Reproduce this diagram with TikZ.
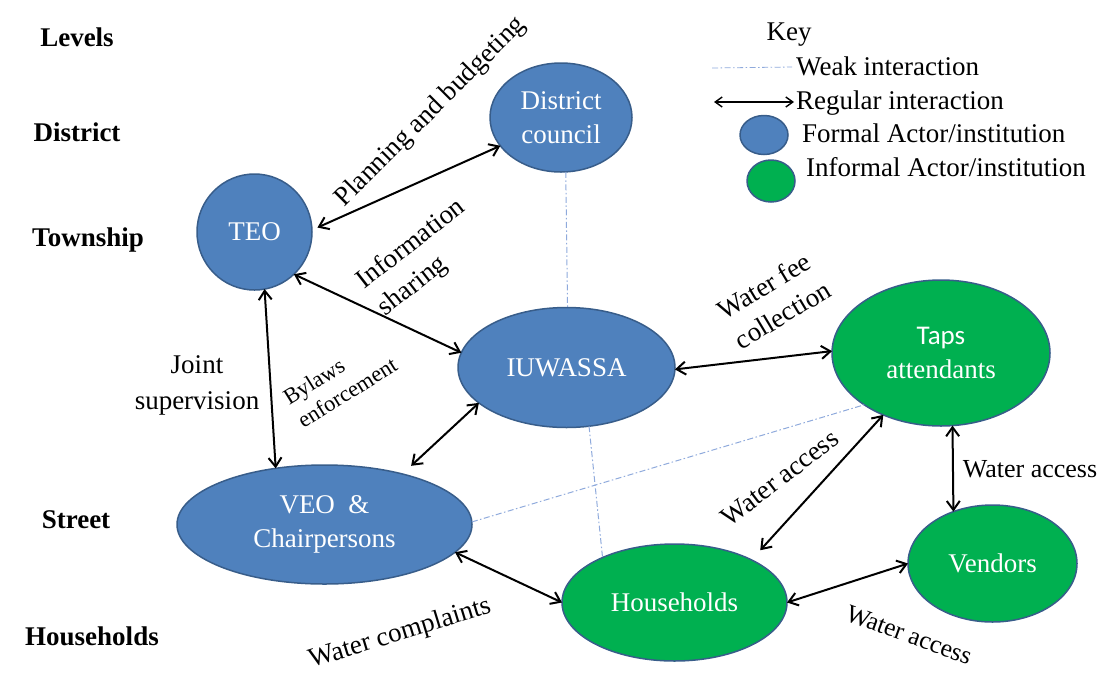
\documentclass[tikz,border=0pt]{standalone}
\usepackage{fontspec}
\setmainfont{Liberation Serif}
\newfontfamily\carlito{Carlito}
\usetikzlibrary{arrows.meta,shapes.geometric}

\definecolor{formalblue}{HTML}{4F81BD}
\definecolor{edgeblue}{HTML}{385D8A}
\definecolor{informalgreen}{HTML}{00B050}
\definecolor{weakblue}{HTML}{8FAADC}

\begin{document}
\begin{tikzpicture}[x=1pt,y=-1pt,
 actor/.style={ellipse, draw=edgeblue, line width=1.5pt, inner sep=0pt, outer sep=0pt,
   text=white, align=center, font=\fontsize{27}{34}\selectfont},
 formal/.style={actor, fill=formalblue},
 informal/.style={actor, fill=informalgreen},
 regular/.style={line width=2pt, {Straight Barb[length=9pt,width=13pt]}-{Straight Barb[length=9pt,width=13pt]}},
 keyarrow/.style={line width=1.4pt, {Straight Barb[length=7pt,width=10pt]}-{Straight Barb[length=7pt,width=10pt]}},
 weak/.style={draw=weakblue, line width=1pt, dash pattern=on 6pt off 2.5pt on 1.5pt off 2.5pt},
 lbl/.style={font=\fontsize{27}{34}\selectfont, inner sep=0pt},
 level/.style={font=\fontsize{27}{34}\selectfont\bfseries, inner sep=0pt},
]
\useasboundingbox (0,0) rectangle (1111,673);

% levels
\node[level] (lvl) at (77,37) {Levels};
\node[level] (lvdist) at (77,132) {District};
\node[level] (lvtown) at (88,240) {Township};
\node[level] (lvstreet) at (76,520) {Street};
\node[level] (lvhh) at (92,636) {Households};

% actors
\node[formal, minimum width=142pt, minimum height=109pt] (dc) at (561,117.5) {District\\council};
\node[formal, minimum width=115pt, minimum height=116pt] (teo) at (254.5,232) {TEO};
\node[formal, minimum width=217pt, minimum height=120pt] (iu) at (566.5,367.5) {IUWASSA};
\node[informal, minimum width=218pt, minimum height=146pt] (taps) at (941,353) {{\carlito Taps}\\{attendants}};
\node[formal, minimum width=295pt, minimum height=119pt] (veo) at (324.5,524.5) {VEO\ \ \&\\Chairpersons};
\node[informal, minimum width=225pt, minimum height=117pt] (hh) at (674.5,602.5) {Households};
\node[informal, minimum width=169pt, minimum height=117pt] (ven) at (992.5,563.5) {Vendors};

% weak interactions
\draw[weak] (dc.-85) -- (iu.89);
\draw[weak] (iu.-69) -- (hh.148);
\draw[weak] (veo.1) -- (taps.214);

% regular interactions
\draw[regular, shorten <=6pt] (teo.2) -- (dc.205);
\draw[regular] (teo.-47) -- (iu.172);
\draw[regular] (teo.-80) -- (veo.131);
\draw[regular, shorten >=12pt] (iu.202) -- (veo.33);
\draw[regular] (iu.-1) -- (taps.179);
\draw[regular] (veo.-12) -- (hh.180);
\draw[regular, shorten <=13pt] (hh.29) -- (taps.227);
\draw[regular] (hh.0) -- (ven.180);
\draw[regular] (taps.-81) -- (ven.127);

% edge labels
\node[lbl, rotate=45] (lplan) at (431,112) {Planning and budgeting};
\node[lbl, rotate=38, align=left] (linfo) at (422,258) {Information\\sharing};
\node[lbl, align=center, font=\fontsize{27}{36}\selectfont] (ljoint) at (197,385) {Joint\\supervision};
\node[lbl, rotate=32, align=left, font=\fontsize{22.5}{27}\selectfont] (lbylaws) at (340,381) {Bylaws\\enforcement};
\node[lbl, rotate=31, align=left] (lfee) at (774,300) {Water fee\\collection};
\node[lbl, rotate=37.5] (lacc1) at (780,478) {Water access};
\node[lbl, font=\fontsize{26}{31}\selectfont] (lacc2) at (1030,469) {Water access};
\node[lbl, rotate=-20, font=\fontsize{25.5}{30}\selectfont] (lacc3) at (909,635) {Water access};
\node[lbl, rotate=17] (lcompl) at (400,634) {Water complaints};

% key
\node[lbl, anchor=base] (keytitle) at (789,40) {Key};
\coordinate (w1) at (712,68);
\coordinate (w2) at (792,67);
\draw[weak, line width=0.8pt] (w1) -- (w2);
\node[lbl, anchor=base west] (kweak) at (796,75) {Weak interaction};
\coordinate (r1) at (714,102);
\coordinate (r2) at (794,102);
\draw[keyarrow] (r1) -- (r2);
\node[lbl, anchor=base west] (kreg) at (796,109) {Regular interaction};
\node[formal, minimum width=48pt, minimum height=39pt] (kformal) at (764,135) {};
\node[lbl, anchor=base west] (kf) at (802,142) {Formal Actor/institution};
\node[informal, minimum width=48pt, minimum height=42pt] (kinf) at (771,181) {};
\node[lbl, anchor=base west] (ki) at (806,176) {Informal Actor/institution};
\end{tikzpicture}
\end{document}
